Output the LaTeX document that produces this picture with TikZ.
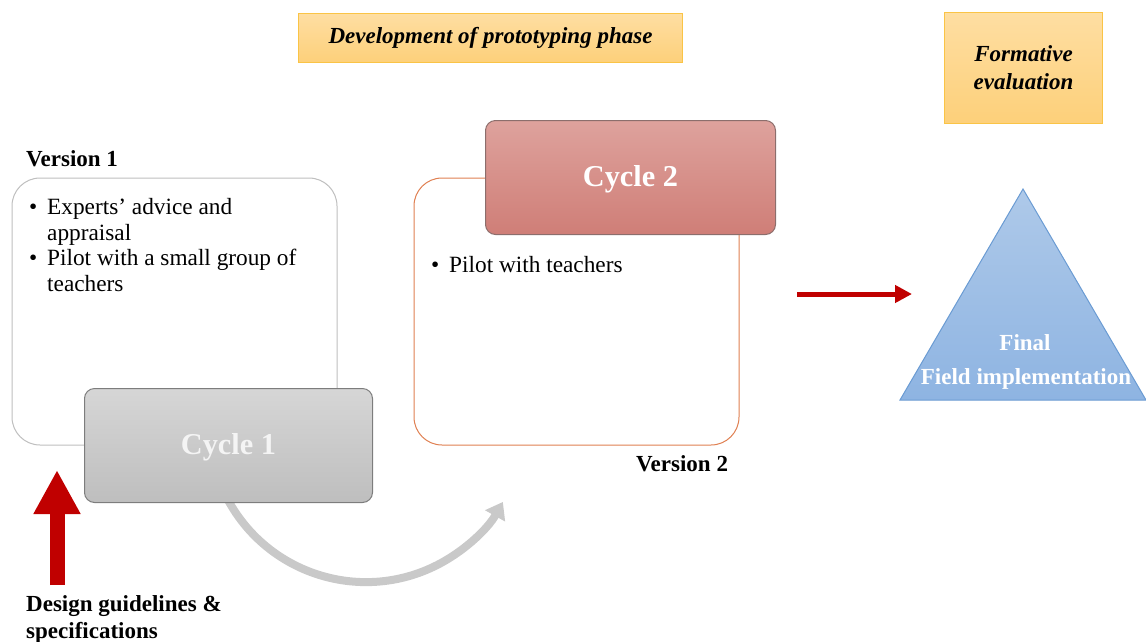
\documentclass[tikz,border=0pt]{standalone}
\usepackage{fontspec}
\setmainfont{Liberation Serif}
\usetikzlibrary{arrows.meta}
\definecolor{redarr}{RGB}{192,0,0}
\definecolor{grayarr}{RGB}{201,201,201}
\definecolor{orTop}{RGB}{254,222,162}
\definecolor{orBot}{RGB}{253,208,122}
\definecolor{orLine}{RGB}{250,196,70}
\definecolor{c1Top}{RGB}{214,214,214}
\definecolor{c1Bot}{RGB}{190,190,190}
\definecolor{c1Line}{RGB}{125,125,125}
\definecolor{c2Top}{RGB}{222,162,157}
\definecolor{c2Bot}{RGB}{207,126,119}
\definecolor{c2Line}{RGB}{140,110,108}
\definecolor{v1Line}{RGB}{191,191,191}
\definecolor{v2Line}{RGB}{224,128,82}
\definecolor{trTop}{RGB}{174,201,233}
\definecolor{trBot}{RGB}{142,180,226}
\definecolor{trLine}{RGB}{106,155,211}
\definecolor{cyTxt}{RGB}{244,244,244}
\tikzset{
  phasebox/.style={draw=orLine, line width=1pt, top color=orTop, bottom color=orBot},
  verbox/.style={line width=1pt, rounded corners=28pt, fill=white},
  cycbox/.style={line width=1pt, rounded corners=10pt},
  body/.style={font=\fontsize{23.3}{25.7}\selectfont, align=left, inner sep=0pt},
  lbl/.style={font=\fontsize{23}{27}\selectfont\bfseries, align=left, inner sep=0pt},
  cyctxt/.style={font=\fontsize{30.3}{32}\selectfont\bfseries},
  phtxt/.style={font=\fontsize{23}{28}\selectfont\bfseries\itshape, align=center},
}
\begin{document}
\begin{tikzpicture}[x=1pt,y=-1pt]
\useasboundingbox (0,0) rectangle (1146,641);
% top boxes
\node[phasebox, minimum width=384pt, minimum height=49pt, anchor=north west, phtxt] (phase) at (298,13) {Development of prototyping phase};
\node[phasebox, minimum width=158pt, minimum height=111pt, anchor=north west, phtxt] (formev) at (944,12) {Formative\\evaluation};
% curved gray arrow
\coordinate (arcs) at (228,500);
\draw[grayarr, line width=8pt, -{Triangle[length=16pt,width=22pt]}] (arcs) arc[start angle=208.5, end angle=330.7, radius=157pt] coordinate (arce);
% version 1
\node[lbl, anchor=west] (v1lbl) at (26,159) {Version 1};
\draw[verbox, draw=v1Line] (12,178) rectangle (337,445);
\node[body, anchor=north west] (v1txt) at (29,198) {\makebox[18pt][l]{\textbullet}Experts’ advice and\\\makebox[18pt]{}appraisal\\\makebox[18pt][l]{\textbullet}Pilot with a small group of\\\makebox[18pt]{}teachers};
\node[cycbox, draw=c1Line, top color=c1Top, bottom color=c1Bot, minimum width=288pt, minimum height=114pt, anchor=north west] (cyc1) at (84,388) {};
\node[cyctxt, text=cyTxt] (cyc1t) at ([yshift=-2pt]cyc1.center) {Cycle 1};
% version 2
\draw[verbox, draw=v2Line] (414,178) rectangle (739,445);
\node[cycbox, draw=c2Line, top color=c2Top, bottom color=c2Bot, minimum width=290pt, minimum height=114pt, anchor=north west] (cyc2) at (485,120) {};
\node[cyctxt, text=white] (cyc2t) at ([yshift=-2pt]cyc2.center) {Cycle 2};
\node[body, anchor=north west] (v2txt) at (431,256) {\makebox[18pt][l]{\textbullet}Pilot with teachers};
\node[lbl, anchor=west] (v2lbl) at (636,464) {Version 2};
% right arrow and triangle
\coordinate (ra1) at (797,294);
\coordinate (ra2) at (912,294);
\draw[redarr, line width=5pt, -{Triangle[length=17pt,width=17pt]}] (ra1) -- (ra2);
\coordinate (tapex) at (1023,189);
\coordinate (tbl) at (900,400);
\coordinate (tbr) at (1146,400);
\draw[draw=trLine, line width=1pt, top color=trTop, bottom color=trBot] (tapex) -- (tbr) -- (tbl) -- cycle;
\node[lbl, text=white, align=center] (fin1) at (1025,343) {Final};
\node[lbl, text=white, align=center] (fin2) at (1026,379) {Field implementation};
% up arrow
\coordinate (ua1) at (57,585);
\coordinate (ua2) at (57,470);
\draw[redarr, line width=15pt, -{Triangle[length=44pt,width=44pt]}] (ua1) -- (ua2);
\node[lbl, anchor=north west] (dg) at (26,595) {Design guidelines \&\\specifications};
\end{tikzpicture}
\end{document}
